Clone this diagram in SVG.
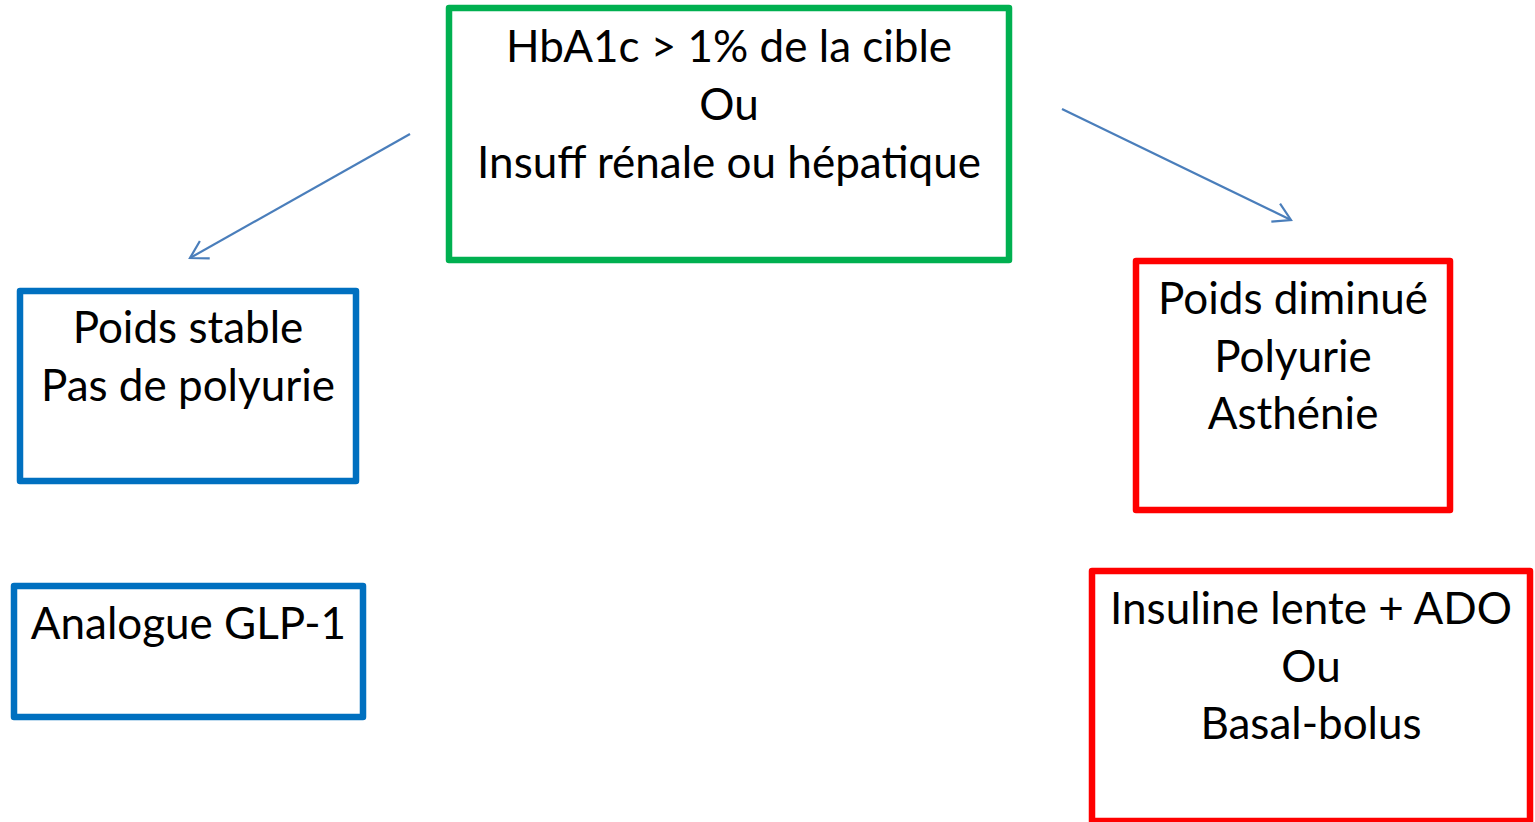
<svg xmlns="http://www.w3.org/2000/svg" width="1535" height="822" viewBox="0 0 1535 822">
<style>
.box{fill:#fff;stroke-width:6.5;stroke-linejoin:round}
.g{stroke:#00B050}.b{stroke:#0070C0}.r{stroke:#FF0000}
text{font-family:Lato,"Open Sans",sans-serif;font-size:44px;fill:#000;text-anchor:middle}
.conn{fill:none;stroke:#4A7EBB;stroke-width:2.2}
</style>
<defs>
<marker id="ah" markerUnits="userSpaceOnUse" markerWidth="30" markerHeight="30" viewBox="-22 -15 30 30" refX="0" refY="0" orient="auto" overflow="visible">
<path d="M-17,-10 L0,0 L-17,10" fill="none" stroke="#4A7EBB" stroke-width="2.2"/>
</marker>
</defs>
<rect width="1535" height="822" fill="#fff"/>
<g id="n-top">
<rect class="box g" x="449" y="8" width="560" height="252"/>
<text x="729" y="62">HbA1c &gt; 1% de la cible</text>
<text x="729" y="120">Ou</text>
<text x="729" y="178">Insuff rénale ou hépatique</text>
</g>
<g id="n-stable">
<rect class="box b" x="20" y="291" width="336" height="190"/>
<text x="188" y="343">Poids stable</text>
<text x="188" y="401">Pas de polyurie</text>
</g>
<g id="n-glp1">
<rect class="box b" x="14" y="586" width="349" height="131"/>
<text x="188.5" y="639">Analogue GLP-1</text>
</g>
<g id="n-diminue">
<rect class="box r" x="1136" y="261" width="314" height="249"/>
<text x="1293" y="314">Poids diminué</text>
<text x="1293" y="372">Polyurie</text>
<text x="1293" y="429">Asthénie</text>
</g>
<g id="n-insuline">
<rect class="box r" x="1092" y="571" width="438" height="250"/>
<text x="1311" y="624">Insuline lente + ADO</text>
<text x="1311" y="682">Ou</text>
<text x="1311" y="739">Basal-bolus</text>
</g>
<g id="connectors">
<line class="conn" x1="410" y1="134" x2="190" y2="258" marker-end="url(#ah)"/>
<line class="conn" x1="1062" y1="109" x2="1291" y2="220" marker-end="url(#ah)"/>
</g>
</svg>
